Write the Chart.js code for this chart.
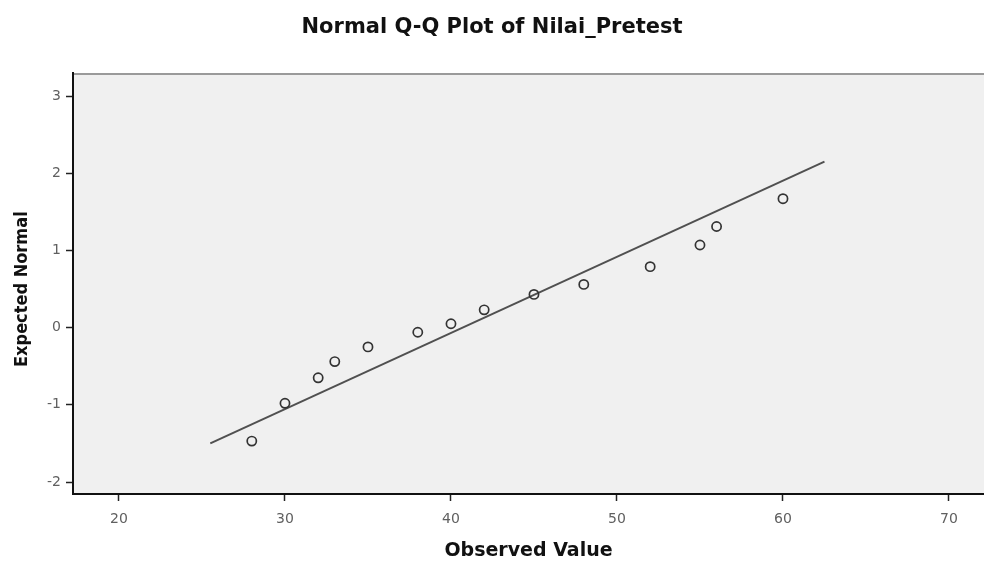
<!DOCTYPE html>
<html>
<head>
<meta charset="utf-8">
<script src="https://cdn.jsdelivr.net/npm/chart.js@4.4.0/dist/chart.umd.min.js"></script>
<style>
  html, body { margin: 0; padding: 0; background: #ffffff; overflow: hidden; }
  #wrap { width: 984px; height: 562px; }
  canvas { display: block; }
</style>
</head>
<body>
<div id="wrap"><canvas id="qq-chart" width="984" height="562"></canvas></div>
<script>
// observed values and their expected normal scores
const observed = [28, 30, 32, 33, 35, 38, 40, 42, 45, 48, 52, 55, 56, 60];
const expected = [-1.47, -0.98, -0.65, -0.44, -0.25, -0.06, 0.05, 0.23, 0.43, 0.56, 0.79, 1.07, 1.31, 1.67];

// reference line ends
const lineX = [25.5, 62.5];
const lineY = [-1.50, 2.15];

const xTicks = [20, 30, 40, 50, 60, 70];
const yTicks = [-2, -1, 0, 1, 2, 3];

const plotBg = {
  id: 'plotBg',
  beforeDraw(chart) {
    const {ctx, chartArea: a} = chart;
    ctx.save();
    ctx.fillStyle = '#f0f0f0';
    ctx.fillRect(a.left, a.top, a.right - a.left, a.bottom - a.top);
    ctx.strokeStyle = '#9a9a9a';
    ctx.lineWidth = 2;
    ctx.beginPath();
    ctx.moveTo(a.left, a.top + 1);
    ctx.lineTo(a.right, a.top + 1);
    ctx.stroke();
    ctx.restore();
  }
};

const ctx = document.getElementById('qq-chart');
const myChart = new Chart(ctx, {
  type: 'scatter',
  data: {
    datasets: [
      {
        label: 'Observed',
        data: observed.map((v, i) => ({x: v, y: expected[i]})),
        pointStyle: 'circle',
        pointRadius: 4.6,
        pointBorderWidth: 1.7,
        borderColor: '#333333',
        backgroundColor: 'rgba(0,0,0,0)',
        showLine: false
      },
      {
        label: 'Line',
        data: lineX.map((v, i) => ({x: v, y: lineY[i]})),
        showLine: true,
        pointRadius: 0,
        borderColor: '#505050',
        borderWidth: 2
      }
    ]
  },
  options: {
    responsive: false,
    animation: false,
    layout: { padding: 0, autoPadding: false },
    plugins: {
      legend: { display: false },
      tooltip: { enabled: false },
      title: {
        display: true,
        text: 'Normal Q-Q Plot of Nilai_Pretest',
        color: '#111111',
        font: { family: "'DejaVu Sans', sans-serif", size: 21, weight: 'bold' },
        padding: { top: 15, bottom: 32.8 }
      }
    },
    scales: {
      x: {
        type: 'linear',
        min: 17.23,
        max: 72.11,
        afterFit(scale) {
          scale.height = 68;
        },
        afterBuildTicks(scale) { scale.ticks = xTicks.map(v => ({value: v})); },
        ticks: {
          color: '#606060',
          padding: 10,
          font: { family: "'DejaVu Sans', sans-serif", size: 14 }
        },
        grid: { drawOnChartArea: false, drawTicks: true, tickLength: 7, tickColor: '#222222', tickWidth: 1.5 },
        border: { color: '#111111', width: 2 },
        title: {
          display: true,
          text: 'Observed Value',
          color: '#111111',
          font: { family: "'DejaVu Sans', sans-serif", size: 19, weight: 'bold' },
          padding: { top: 0, bottom: 0 }
        }
      },
      y: {
        type: 'linear',
        min: -2.155,
        max: 3.298,
        afterFit(scale) { scale.width = 73; },
        afterBuildTicks(scale) { scale.ticks = yTicks.map(v => ({value: v})); },
        ticks: {
          color: '#606060',
          padding: 5,
          font: { family: "'DejaVu Sans', sans-serif", size: 14 }
        },
        grid: { drawOnChartArea: false, drawTicks: true, tickLength: 7, tickColor: '#222222', tickWidth: 1.5 },
        border: { color: '#111111', width: 2 },
        title: {
          display: true,
          text: 'Expected Normal  ',
          color: '#111111',
          font: { family: "'Liberation Sans Narrow', 'DejaVu Sans Condensed', sans-serif", size: 18, weight: 'bold' },
          padding: { top: 12, bottom: 0 }
        }
      }
    }
  },
  plugins: [plotBg]
});
</script>
</body>
</html>
